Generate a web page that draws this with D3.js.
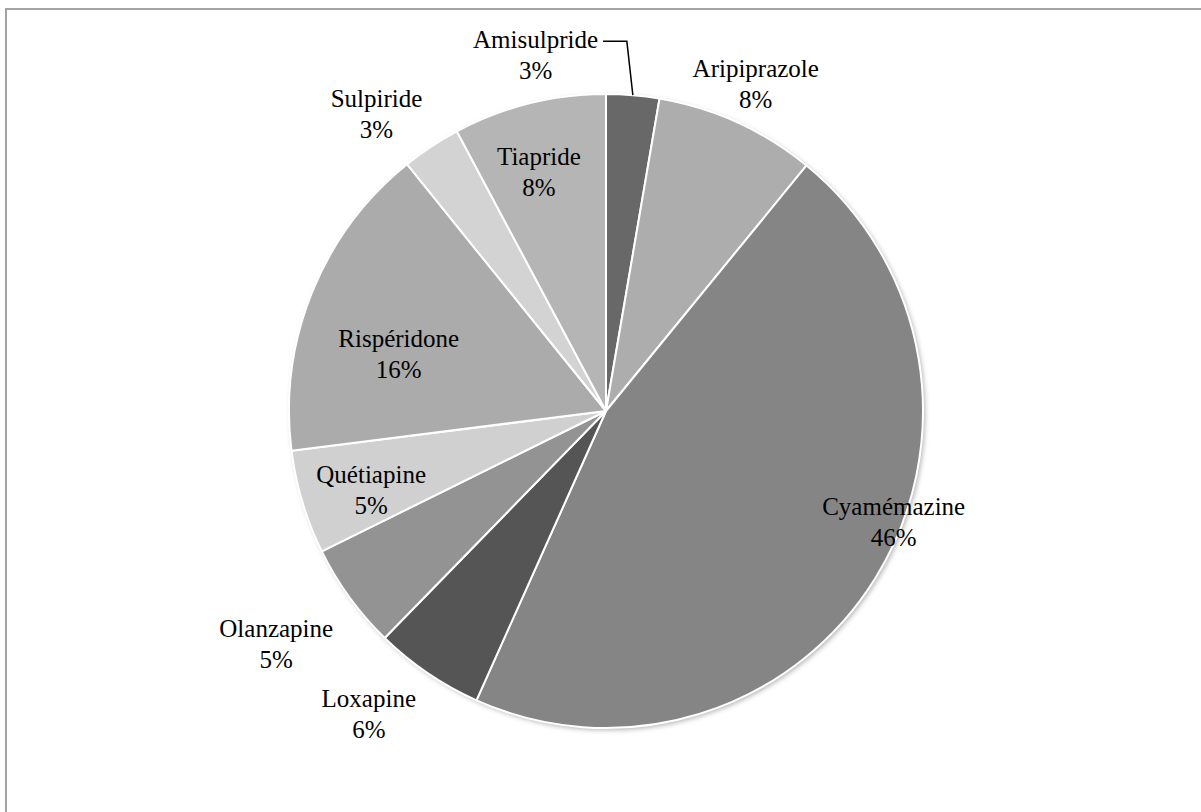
<!DOCTYPE html>
<html>
<head>
<meta charset="utf-8">
<script src="https://cdn.jsdelivr.net/npm/d3@7"></script>
<style>
  html, body { margin: 0; padding: 0; background: #fff; }
  svg { display: block; }
  .lbl { font-family: "Liberation Serif", "DejaVu Serif", serif; font-size: 25px; fill: #000; }
</style>
</head>
<body>
<div id="chart"></div>
<script>
/* ---------- data ---------- */
const drugs = ['Amisulpride', 'Aripiprazole', 'Cyamémazine', 'Loxapine', 'Olanzapine',
               'Quétiapine', 'Rispéridone', 'Sulpiride', 'Tiapride'];
const shares = [2.7, 8.2, 45.8, 5.6, 5.4, 5.3, 16.2, 3.0, 7.8];
const greys = ['#686868', '#adadad', '#858585', '#555555', '#939393',
               '#d0d0d0', '#ababab', '#d3d3d3', '#b5b5b5'];

// label placement: radius factor and angular nudge (deg) from slice mid-angle
const labelPlace = [
  [1.15, -16], [1.14, 0], [0.97, -11], [1.21, 4], [1.27, 1],
  [0.78, -1.5], [0.68, -6], [1.19, -4], [0.79, -1.5]
];

(function () {
  const W = 1201, H = 812;
  const cx = 606, cy = 411, R = 317;

  const svg = d3.select('#chart').append('svg')
    .attr('width', W).attr('height', H)
    .attr('viewBox', `0 0 ${W} ${H}`);

  // frame (right/bottom edges run off the canvas)
  svg.append('rect')
    .attr('x', 6).attr('y', 9)
    .attr('width', W + 20).attr('height', H + 20)
    .attr('fill', 'none')
    .attr('stroke', '#a3a3a3')
    .attr('stroke-width', 2);

  const defs = svg.append('defs');
  const f = defs.append('filter').attr('id', 'shadow')
    .attr('x', '-10%').attr('y', '-10%').attr('width', '120%').attr('height', '120%');
  f.append('feDropShadow')
    .attr('dx', 2).attr('dy', 2).attr('stdDeviation', 2.5)
    .attr('flood-color', '#000').attr('flood-opacity', 0.3);

  const g = svg.append('g').attr('transform', `translate(${cx},${cy})`);

  const data = drugs.map((d, i) => ({ name: d, value: shares[i], color: greys[i], place: labelPlace[i] }));
  const total = d3.sum(shares);

  const pie = d3.pie().sort(null).value(d => d.value);
  const arcs = pie(data);
  const arc = d3.arc().innerRadius(0).outerRadius(R);

  g.append('circle').attr('r', R).attr('fill', '#888').attr('filter', 'url(#shadow)');

  g.selectAll('path.slice')
    .data(arcs)
    .join('path')
    .attr('class', 'slice')
    .attr('d', arc)
    .attr('fill', d => d.data.color)
    .attr('stroke', '#fff')
    .attr('stroke-width', 2)
    .attr('stroke-linejoin', 'round');

  const pos = d => {
    const a = (d.startAngle + d.endAngle) / 2 + d.data.place[1] * Math.PI / 180;
    const r = R * d.data.place[0];
    return [Math.sin(a) * r, -Math.cos(a) * r];
  };

  const labels = g.selectAll('text.lbl')
    .data(arcs)
    .join('text')
    .attr('class', 'lbl')
    .attr('text-anchor', 'middle')
    .attr('transform', d => `translate(${pos(d)})`);

  labels.append('tspan').attr('x', 0).attr('y', -5).text(d => d.data.name);
  labels.append('tspan').attr('x', 0).attr('y', 26)
    .text(d => Math.round(d.value / total * 100) + '%');

  // leader line for the small top slice
  const lead = arcs[0];
  const midA = (lead.startAngle + lead.endAngle) / 2;
  const tip = [Math.sin(midA) * R, -Math.cos(midA) * R];
  const lp = pos(lead);
  const node = labels.filter((d, i) => i === 0).select('tspan').node();
  const halfW = node.getComputedTextLength() / 2;
  const ly = lp[1] - 12;
  g.append('polyline')
    .attr('points', [[lp[0] + halfW + 5, ly], [tip[0] - 6, ly], tip].map(p => p.join(',')).join(' '))
    .attr('fill', 'none')
    .attr('stroke', '#000')
    .attr('stroke-width', 1.5);
})();
</script>
</body>
</html>
